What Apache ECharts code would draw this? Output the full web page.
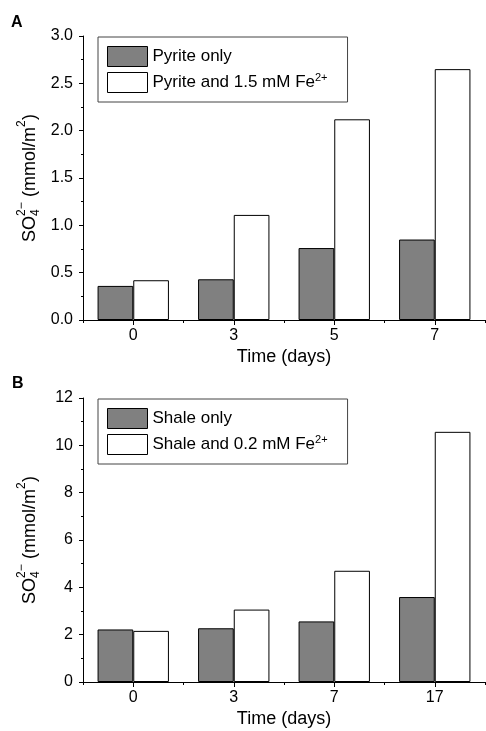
<!DOCTYPE html>
<html>
<head>
<meta charset="utf-8">
<script src="https://cdn.jsdelivr.net/npm/echarts@6/dist/echarts.min.js"></script>
<style>
  html, body { margin: 0; padding: 0; background: #fff; }
  #chart { width: 486px; height: 731px; }
</style>
</head>
<body>
<div id="chart"></div>
<script>
// Panel A: pyrite experiments
const daysA = ['0', '3', '5', '7'];
const pyriteOnly = [0.36, 0.43, 0.76, 0.85];
const pyriteFe = [0.42, 1.11, 2.12, 2.65];
const namesA = ['Pyrite only', 'Pyrite and 1.5 mM Fe2+'];
const ticksA = { min: 0, max: 3, interval: 0.5 };

// Panel B: shale experiments
const daysB = ['0', '3', '7', '17'];
const shaleOnly = [2.22, 2.27, 2.56, 3.59];
const shaleFe = [2.16, 3.06, 4.70, 10.57];
const namesB = ['Shale only', 'Shale and 0.2 mM Fe2+'];
const ticksB = { min: 0, max: 12, interval: 2 };

const FONT = 'Liberation Sans, Arial, Helvetica, sans-serif';
const BLACK = '#000';

const chart = echarts.init(document.getElementById('chart'), null, { renderer: 'canvas' });

function valueAxis(grid, t, fmt) {
  return {
    type: 'value', gridIndex: grid, min: t.min, max: t.max, interval: t.interval,
    axisLine: { show: true, lineStyle: { color: BLACK, width: 1 } },
    axisTick: { show: true, length: 4, lineStyle: { color: BLACK } },
    minorTick: { show: true, splitNumber: 2, length: 2, lineStyle: { color: BLACK } },
    splitLine: { show: false },
    axisLabel: { fontSize: 16, fontFamily: FONT, color: BLACK, margin: 10, formatter: fmt }
  };
}

function categoryAxis(grid, cats) {
  return {
    type: 'category', gridIndex: grid, data: cats, position: 'bottom',
    axisLine: { show: true, lineStyle: { color: BLACK, width: 1 } },
    axisTick: { show: true, alignWithLabel: true, length: 5, lineStyle: { color: BLACK } },
    axisLabel: { fontSize: 16, fontFamily: FONT, color: BLACK, margin: 8 },
    name: 'Time (days)', nameLocation: 'middle', nameGap: 28,
    nameTextStyle: { fontSize: 18, fontFamily: FONT, color: BLACK }
  };
}

// short ticks on the category boundaries
function boundaryAxis(grid, cats) {
  return {
    type: 'category', gridIndex: grid, data: cats, position: 'bottom',
    axisLine: { show: false },
    axisTick: { show: true, alignWithLabel: false, length: 3, lineStyle: { color: BLACK } },
    axisLabel: { show: false }
  };
}

function barSeries(name, data, axisIdx, fill) {
  return {
    type: 'bar', name: name, data: data,
    xAxisIndex: axisIdx, yAxisIndex: axisIdx,
    barGap: '0%', barCategoryGap: '29%',
    itemStyle: { color: fill, borderColor: BLACK, borderWidth: 1 },
    emphasis: { disabled: true }
  };
}

function legendFor(names, top) {
  return {
    data: names, orient: 'vertical', left: 98, top: top,
    padding: [9, 20, 9, 9], itemGap: 5, itemWidth: 40, itemHeight: 20,
    icon: 'rect',
    itemStyle: { borderColor: BLACK, borderWidth: 1 },
    borderColor: '#444', borderWidth: 1,
    selectedMode: false,
    formatter: n => n.replace('Fe2+', 'Fe{sup|2+}'),
    textStyle: {
      fontSize: 17, fontFamily: FONT, color: BLACK, lineHeight: 20,
      rich: { sup: { fontSize: 11, fontFamily: FONT, color: BLACK, verticalAlign: 'top', lineHeight: 12 } }
    }
  };
}

// rotated y-axis title with stacked sub/superscript
function yTitle(cx, cy) {
  const big = { fontSize: 18, fontFamily: FONT, fill: BLACK, verticalAlign: 'middle', align: 'left' };
  const small = { fontSize: 12, fontFamily: FONT, fill: BLACK, verticalAlign: 'middle', align: 'left' };
  return {
    type: 'group', x: cx, y: cy, rotation: Math.PI / 2, silent: true,
    children: [
      { type: 'text', x: 0, y: 0, style: Object.assign({ text: 'SO' }, big) },
      { type: 'text', x: 26, y: 6, style: Object.assign({ text: '4' }, small) },
      { type: 'text', x: 26, y: -8, style: Object.assign({ text: '2\u2212' }, small) },
      { type: 'text', x: 40, y: 0, style: Object.assign({ text: ' (mmol/m' }, big) },
      { type: 'text', x: 115, y: -8, style: Object.assign({ text: '2' }, small) },
      { type: 'text', x: 122, y: 0, style: Object.assign({ text: ')' }, big) }
    ]
  };
}

function panelLetter(text, x, y) {
  return {
    type: 'text', left: x, top: y, silent: true,
    style: { text: text, fontSize: 16, fontWeight: 'bold', fontFamily: FONT, fill: BLACK }
  };
}

const option = {
  animation: false,
  backgroundColor: '#fff',
  grid: [
    { left: 83, right: 1, top: 36, height: 284 },
    { left: 83, right: 1, top: 398, height: 284 }
  ],
  xAxis: [
    categoryAxis(0, daysA),
    categoryAxis(1, daysB),
    boundaryAxis(0, daysA),
    boundaryAxis(1, daysB)
  ],
  yAxis: [
    valueAxis(0, ticksA, v => v.toFixed(1)),
    valueAxis(1, ticksB, v => String(v))
  ],
  legend: [legendFor(namesA, 37), legendFor(namesB, 399)],
  series: [
    barSeries(namesA[0], pyriteOnly, 0, '#808080'),
    barSeries(namesA[1], pyriteFe, 0, '#ffffff'),
    barSeries(namesB[0], shaleOnly, 1, '#808080'),
    barSeries(namesB[1], shaleFe, 1, '#ffffff')
  ],
  graphic: [
    yTitle(30, 242),
    yTitle(30, 604),
    panelLetter('A', 11, 15),
    panelLetter('B', 12, 376)
  ]
};

chart.setOption(option);
</script>
</body>
</html>
